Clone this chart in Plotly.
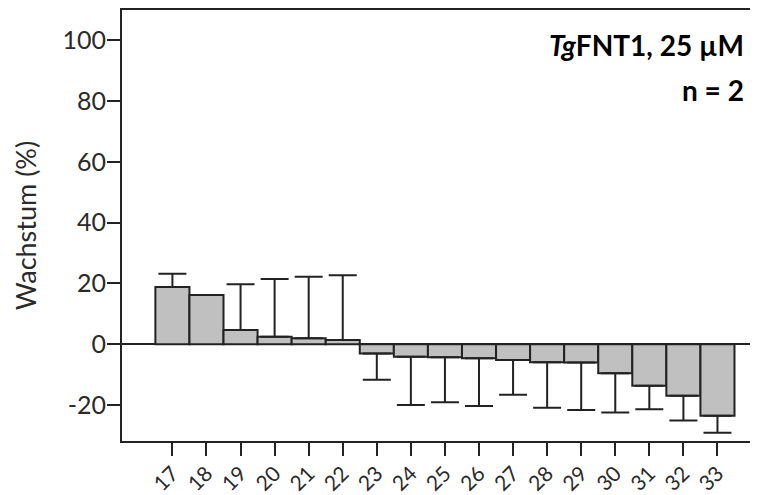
import plotly.graph_objects as go

categories = [17, 18, 19, 20, 21, 22, 23, 24, 25, 26, 27, 28, 29, 30, 31, 32, 33]
growth = [18.8, 16.2, 4.7, 2.5, 2.0, 1.4, -3.0, -4.1, -4.3, -4.6, -5.2, -5.9, -6.0, -9.5, -13.6, -16.9, -23.5]
error = [4.4, 0.0, 15.0, 19.0, 20.2, 21.3, 8.7, 15.9, 14.8, 15.7, 11.4, 15.0, 15.6, 12.9, 7.8, 8.2, 5.6]
y_ticks = [-20, 0, 20, 40, 60, 80, 100]
y_ticktext = ["-20", "0", "20", "40", "60", "80", "100"]

err_up = [e if v >= 0 else 0 for v, e in zip(growth, error)]
err_down = [e if v < 0 else 0 for v, e in zip(growth, error)]

INK = "#222222"
TXT = "#2a2a2a"
FONT = "Lato"

fig = go.Figure()
fig.add_trace(go.Bar(
    x=categories, y=growth, width=1,
    marker=dict(color="#c0c0c0", line=dict(color=INK, width=2)),
    error_y=dict(type="data", symmetric=False, array=err_up, arrayminus=err_down,
                 color=INK, thickness=2, width=14),
    showlegend=False,
))

# page body has an 8px margin: figure is shifted by 8px right and down
fig.update_layout(
    width=750, height=487,
    margin=dict(l=114, r=0, t=2, b=54),
    paper_bgcolor="white", plot_bgcolor="white",
    font=dict(family=FONT, size=22, color=TXT),
    xaxis=dict(range=[15.52, 34.19], tickvals=categories, ticktext=[str(c) for c in categories],
               tickangle=-45, ticks="outside", ticklen=13, tickwidth=2, tickcolor=INK,
               showline=True, mirror=True, linecolor=INK, linewidth=2,
               showgrid=False, zeroline=False, automargin=False,
               ticklabelstandoff=-3, tickfont=dict(size=21, color=TXT)),
    yaxis=dict(range=[-31.8, 109.9], tickvals=y_ticks, ticktext=y_ticktext, ticks="outside", ticklen=13,
               tickwidth=2, tickcolor=INK, showline=True, mirror=False, linecolor=INK,
               linewidth=2, showgrid=False, zeroline=True, zerolinecolor=INK,
               zerolinewidth=2, automargin=False, ticklabelstandoff=-4,
               tickfont=dict(size=25, color=TXT),
               title=dict(text="Wachstum (%)", font=dict(size=27, color=TXT), standoff=18)),
    annotations=[
        dict(text="<b><i>Tg</i>FNT1, 25 µM</b>", xref="paper", yref="paper",
             x=0.981, y=1 - (45 - 10) / 431, xanchor="right", yanchor="middle",
             showarrow=False, font=dict(size=28, color="black")),
        dict(text="<b>n = 2</b>", xref="paper", yref="paper",
             x=0.981, y=1 - (90 - 10) / 431, xanchor="right", yanchor="middle",
             showarrow=False, font=dict(size=28, color="black")),
    ],
)

fig.write_html("out.html")
